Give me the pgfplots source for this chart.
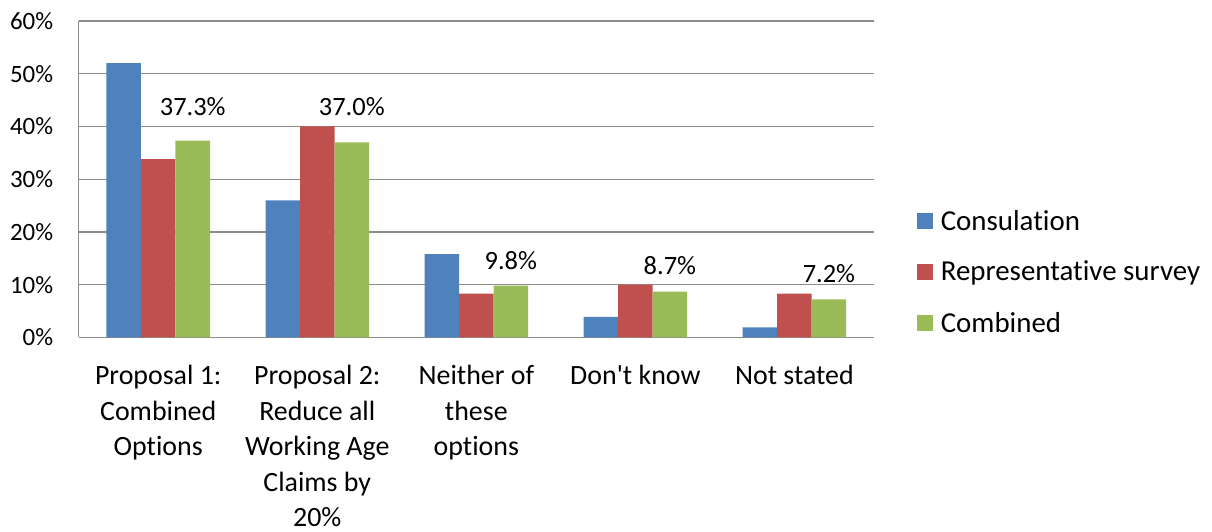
\documentclass[border=0pt]{standalone}
\usepackage{pgfplots}
\pgfplotsset{compat=1.18}
\usepackage{pgfplotstable}
\usepackage{fontspec}
\setmainfont{Carlito}[Ligatures={NoCommon}]
\definecolor{cblue}{HTML}{4F81BD}
\definecolor{cred}{HTML}{C0504D}
\definecolor{cgreen}{HTML}{9BBB59}
\definecolor{gridgray}{HTML}{8C8C8C}

\pgfplotstableread{
x y
0 52.0
1 26.0
2 15.8
3 3.9
4 1.9
}\consult
\pgfplotstableread{
x y
0 33.8
1 40.0
2 8.3
3 10.0
4 8.3
}\repr
\pgfplotstableread{
x y off
0 37.3 34
1 37.0 35.6
2 9.8 25.6
3 8.7 26.4
4 7.2 26
}\comb

\begin{document}
\begin{tikzpicture}
\begin{axis}[
  scale only axis,
  width=795bp, height=316.3bp,
  xmin=-0.5, xmax=4.5, ymin=0, ymax=60,
  ybar=0pt, bar width=34.5bp,
  axis lines*=left,
  axis line style={draw=gridgray, line width=1.2bp, -},
  ymajorgrids,
  grid style={draw=gridgray, line width=1.2bp},
  major tick length=0pt,
  tick style={draw=none},
  xtick={0,1,2,3,4},
  xticklabels={{Proposal 1:\\Combined\\Options},{Proposal 2:\\Reduce all\\Working Age\\Claims by\\20\%},{Neither of\\these\\options},{Don\textquotesingle t know},{Not stated}},
  xticklabel style={anchor=north, inner sep=0pt, yshift=-27.7bp, align=center, font=\fontsize{28}{35.6}\selectfont},
  ytick={0,10,20,30,40,50,60},
  yticklabels={0\%,10\%,20\%,30\%,40\%,50\%,60\%},
  yticklabel style={anchor=east, inner sep=0pt, xshift=-25.4bp, font=\fontsize{25}{25}\selectfont},
  legend cell align=left,
  legend style={at={(1,0.2074)}, anchor=west, xshift=42.7bp, draw=none, fill=none,
    inner sep=0pt, row sep=0pt,
    nodes={inner sep=0pt, minimum height=51bp},
    font=\fontsize{29}{29}\selectfont,
    /tikz/every odd column/.style={column sep=8bp}},
  clip=false,
]
\addplot[fill=cblue, draw=none, legend image code/.code={\fill[cblue] (0bp,-8bp) rectangle (16bp,8bp);}] table[x=x,y=y] {\consult};
\addlegendentry{Consulation}
\addplot[fill=cred, draw=none, legend image code/.code={\fill[cred] (0bp,-8bp) rectangle (16bp,8bp);}] table[x=x,y=y] {\repr};
\addlegendentry{Representative survey}
\addplot[fill=cgreen, draw=none, legend image code/.code={\fill[cgreen] (0bp,-8bp) rectangle (16bp,8bp);},
  visualization depends on={\thisrow{off}\as\off},
  nodes near coords={\pgfmathprintnumber[fixed, fixed zerofill, precision=1, assume math mode=true]{\pgfplotspointmeta}\%},
  every node near coord/.append style={anchor=center, yshift=\off bp, text=black, inner sep=0pt, font=\fontsize{26.5}{26.5}\selectfont}
] table[x=x,y=y] {\comb};
\addlegendentry{Combined}
\end{axis}
\pgfresetboundingbox
\path ([shift={(-78.7bp,-193.7bp)}]current axis.south west) rectangle ([shift={(338bp,21bp)}]current axis.north east);
\end{tikzpicture}
\end{document}
